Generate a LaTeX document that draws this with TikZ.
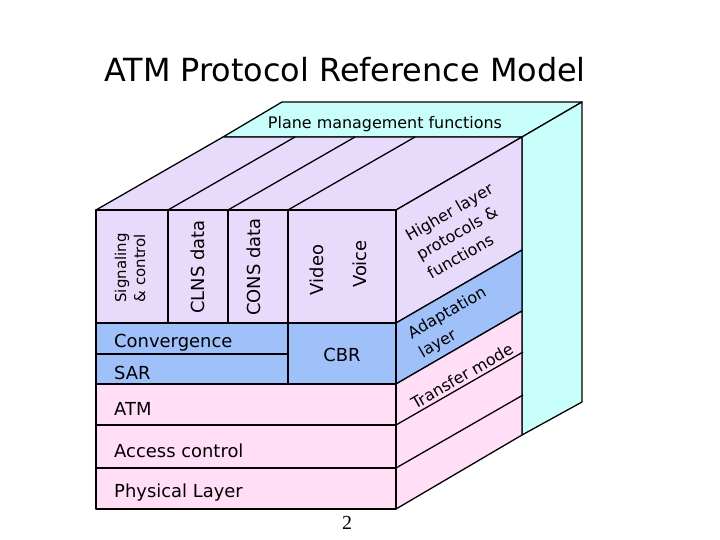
\documentclass[tikz,border=0pt]{standalone}
\usepackage{fontspec}
\setmainfont{DejaVu Sans}
\begin{document}
\begin{tikzpicture}[x=1bp,y=-1bp,line join=round]
\definecolor{lav}{RGB}{232,218,250}
\definecolor{blu}{RGB}{160,192,250}
\definecolor{pnk}{RGB}{255,222,246}
\definecolor{cyn}{RGB}{200,255,250}
\tikzset{face/.style={draw=black,line width=1.3pt},
  lbl/.style={font=\fontsize{18}{20}\selectfont,inner sep=0pt},
  side/.style={inner sep=0pt,font=\fontsize{16}{22}\selectfont,rotate=30,align=left}}
\useasboundingbox (0,0) rectangle (720,540);
\fill[white] (0,0) rectangle (720,540);
\def\dx{127}\def\dy{-73}
% management plane slab behind
\draw[face,fill=cyn] (223,137)--(282,102)--(582,102)--(522,137)--cycle;
\draw[face,fill=cyn] (522,137)--(582,102)--(582,402)--(522,435)--cycle;
% top face
\draw[face,fill=lav] (96,210)--(223,137)--(522,137)--(396,210)--cycle;
\foreach \x in {168,228,288}
  \draw[face] (\x,210)--++(\dx,\dy);
% right side bands
\draw[face,fill=lav] (396,210)--(522,137)--(522,250)--(396,323)--cycle;
\draw[face,fill=blu] (396,323)--(522,250)--(522,311)--(396,384)--cycle;
\draw[face,fill=pnk] (396,384)--(522,311)--(522,435)--(396,509)--cycle;
\foreach \y in {425,468}
  \draw[face] (396,\y)--++(\dx,\dy);
% front face
\draw[face,fill=lav] (96,210) rectangle (396,323);
\foreach \x in {168,228,288}
  \draw[face] (\x,210)--(\x,323);
\draw[face,fill=blu] (96,323) rectangle (396,384);
\draw[face] (96,354)--(288,354) (288,323)--(288,384);
\draw[face,fill=pnk] (96,384) rectangle (396,425);
\draw[face,fill=pnk] (96,425) rectangle (396,468);
\draw[face,fill=pnk] (96,468) rectangle (396,509);
% texts
\node[font=\fontsize{32}{34}\selectfont] (title) at (345,70) {ATM Protocol Reference Model};
\node[font=\fontsize{16}{18}\selectfont] (plane) at (385,124) {Plane management functions};
\node[lbl,rotate=90,align=center,font=\fontsize{15}{19}\selectfont] (sig) at (130,268) {Signaling\\\& control};
\node[lbl,rotate=90] (clns) at (198,267) {CLNS data};
\node[lbl,rotate=90] (cons) at (254,267) {CONS data};
\node[lbl,rotate=90] (video) at (317,270) {Video};
\node[lbl,rotate=90] (voice) at (360,264) {Voice};
\node[lbl,anchor=west] (conv) at (114,343) {Convergence};
\node[lbl,anchor=west] (sar) at (114,373) {SAR};
\node[lbl] (cbr) at (342,355) {CBR};
\node[lbl,anchor=west] (atm) at (114,409) {ATM};
\node[lbl,anchor=west] (acc) at (114,451) {Access control};
\node[lbl,anchor=west] (phy) at (114,493) {Physical Layer};
\node[side] (hl) at (460,231) {Higher layer\\protocols \&\\functions};
\node[side] (adp) at (453,323) {Adaptation\\layer};
\node[side] (tm) at (462,376) {Transfer mode};
\node[font=\fontspec{Liberation Serif}\fontsize{20}{22}\selectfont] (pg) at (347,523) {2};
\end{tikzpicture}
\end{document}
